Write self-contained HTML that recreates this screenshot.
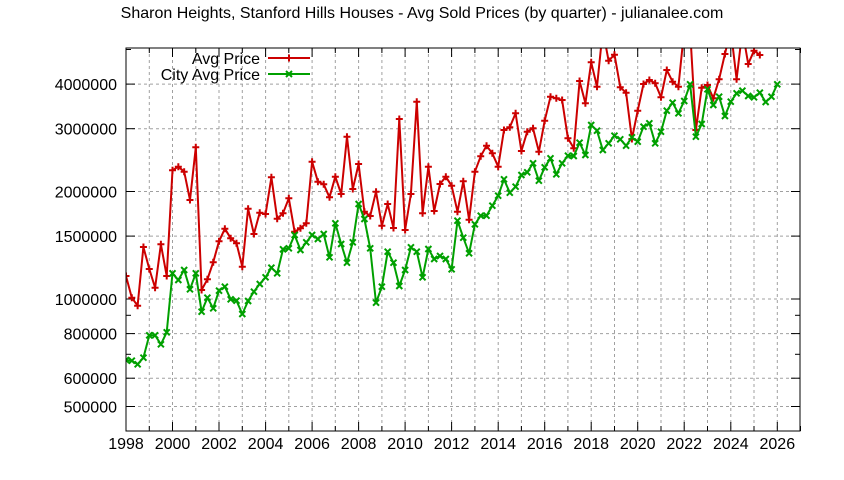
<!DOCTYPE html>
<html><head><meta charset="utf-8"><style>
html,body{margin:0;padding:0;background:#fff;}
svg{display:block;font-family:"Liberation Sans",sans-serif;}
</style></head><body>
<svg id="c" width="844" height="480" xmlns="http://www.w3.org/2000/svg">
<defs><clipPath id="cl"><rect x="126" y="48" width="674" height="383"/></clipPath></defs>
<rect width="844" height="480" fill="#fff"/>
<text x="422" y="18" text-anchor="middle" font-size="16">Sharon Heights, Stanford Hills Houses - Avg Sold Prices (by quarter) - julianalee.com</text>
<g id="grid" stroke="#a0a0a0" stroke-width="1" stroke-dasharray="3,3"></g>
<g id="ticks" stroke="#000" stroke-width="1"></g>
<g id="labels" font-size="16"></g>
<g clip-path="url(#cl)" id="series"></g>
<rect x="126" y="48" width="674" height="383" fill="none" stroke="#000" stroke-width="1"/>
<g font-size="16">
<text x="260" y="64" text-anchor="end">Avg Price</text>
<text x="260" y="80" text-anchor="end">City Avg Price</text>
</g>
<g id="legend"></g>
</svg>
<script>
var NS="http://www.w3.org/2000/svg";
function el(p,t,a,txt){var e=document.createElementNS(NS,t);for(var k in a)e.setAttribute(k,a[k]);if(txt!==undefined)e.textContent=txt;document.getElementById(p).appendChild(e);return e;}
function Y(v){return 299-(Math.log10(v)-6)*357;}
var yl=[4000000,3000000,2000000,1500000,1000000,800000,600000,500000];
yl.forEach(function(v){var y=Y(v).toFixed(1);
 el("grid","line",{x1:126,x2:800,y1:y,y2:y});
 el("ticks","line",{x1:126,x2:135,y1:y,y2:y});el("ticks","line",{x1:791,x2:800,y1:y,y2:y});
 el("labels","text",{x:117,y:+y+6,"text-anchor":"end"},String(v));});
[900000,700000,5000000].forEach(function(v){var y=Y(v).toFixed(1);
 el("ticks","line",{x1:126,x2:131,y1:y,y2:y});el("ticks","line",{x1:795,x2:800,y1:y,y2:y});});
for(var yr=1998;yr<=2027;yr++){var x=(126+(yr-1998)*23.26).toFixed(1);
 if(yr>1998&&yr<2027)el("grid","line",{x1:x,x2:x,y1:48,y2:431});
 el("ticks","line",{x1:x,x2:x,y1:431,y2:(yr%2==0?422:426)});
 el("ticks","line",{x1:x,x2:x,y1:48,y2:(yr%2==0?57:53)});
 if(yr%2==0)el("labels","text",{x:x,y:449,"text-anchor":"middle"},String(yr));}
var red=[276,297.7,305.7,247,269,287.7,244.3,276,170.3,166.7,171.7,200,147.3,290,279.3,262.3,241.3,228.7,238.3,243.3,266.7,208.7,234,212.7,214,177.3,218.7,213.3,198.3,231.7,228.3,223.3,161.7,181.7,184.3,197.3,176.7,194,136.7,189,164,211.7,216,191.7,225.7,204,228,119,230,194,101.7,213.3,166.7,211,184,176.7,185.7,211.7,181.3,219.7,171.7,156.3,145.7,153.3,166.7,130,127.3,113.3,151,131.7,128.3,151.7,120.7,96.7,98.3,100,138.3,148.3,81,103.3,62.3,86.7,30,60.7,54.7,87.3,92.7,139,110.7,84,80,83.3,97.3,70,81.7,86.7,30,30,130,87.7,85,98.3,79.3,54,30,79.3,30,64,50.7,55];
var grn=[360,360.7,364.3,357.7,335.3,335.3,344.3,332.3,273.3,280,270,289.3,273.3,311.7,297.7,308.3,290.7,286.7,299.3,300.7,314,301,291.7,284,277.3,267.7,273.3,249.3,248.3,235,250,242.3,235,239,234,257.3,223.3,244,262.7,242.3,204,219,248.3,302.7,286.7,251.7,262.7,286,270,247.3,251.7,277.3,249,259,256,259,269.3,220.7,237.7,253.3,224.3,215.7,215.7,205.7,195.7,179.3,192.7,186.7,175,172.3,163.3,180.7,167.3,158.3,174.3,163.3,155.7,156,142.7,155,125,130.7,150,143.3,135.7,139.3,145.7,137.3,141.7,126.7,123.3,143.3,131.7,110.7,102.7,113.3,101,84.3,136.7,124,89.3,105,96.7,116,101.7,93.3,90.7,96,97.3,92.7,102,96.7,84.3];
function draw(d,col,mk){var pts=d.map(function(y,i){return (126+i*5.815).toFixed(1)+","+y;}).join(" ");
 el("series","polyline",{points:pts,fill:"none",stroke:col,"stroke-width":2,"stroke-linejoin":"round"});
 d.forEach(function(y,i){var x=126+i*5.815;mk("series",x,y,col);});}
function plus(p,x,y,c){el(p,"path",{d:"M"+(x-3.5)+" "+y+"h7M"+x+" "+(y-3.5)+"v7",stroke:c,"stroke-width":2,fill:"none"});}
function cross(p,x,y,c){el(p,"path",{d:"M"+(x-3)+" "+(y-3)+"l6 6M"+(x-3)+" "+(y+3)+"l6 -6",stroke:c,"stroke-width":2,fill:"none"});}
draw(red,"#cc0000",plus);draw(grn,"#00a000",cross);
el("legend","line",{x1:268,x2:310,y1:58,y2:58,stroke:"#cc0000","stroke-width":2});plus("legend",289,58,"#cc0000");
el("legend","line",{x1:268,x2:310,y1:74,y2:74,stroke:"#00a000","stroke-width":2});cross("legend",289,74,"#00a000");
</script>
</body></html>
